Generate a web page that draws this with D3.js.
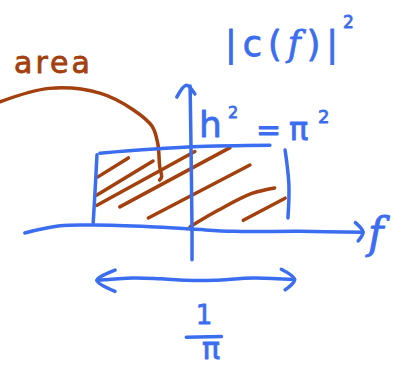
<!DOCTYPE html>
<html>
<head>
<meta charset="utf-8">
<script src="https://cdn.jsdelivr.net/npm/d3@7"></script>
<style>
  html, body { margin: 0; padding: 0; background: #fff; }
  #content { width: 406px; height: 367px; overflow: hidden; }
</style>
</head>
<body>
<div id="content"></div>
<script>
var width = document.getElementById('content').offsetWidth;
var height = document.getElementById('content').offsetHeight;

// sketch units: box spans f in [-1, 1], height in [0, 1]
var fAxis = [[-1.76,-0.05],[-1.39,0.04],[-1.04,0.05],[-0.44,0.03],[0,0],[0.43,-0.03],[1.14,-0.03],[1.8,-0.04]];
var fArrow = [[1.72,0.08],[1.8,-0.04],[1.75,-0.15]];
var hAxis = [[0,-0.39],[0,0],[-0.01,1],[-0.02,1.81]];
var hArrow = [[-0.16,1.67],[-0.06,1.82],[0.03,1.71]];
var boxTop = [[-0.97,0.96],[0,1.04],[0.82,1.06]];
var boxLeft = [[-1,0.94],[-1.02,0.49],[-1.04,0.08]];
var boxRight = [[0.98,1.0],[1.02,0.56],[1.01,0.14]];
var hatch = [
  [[-0.99,0.66],[-0.67,0.9]],
  [[-1,0.43],[-0.41,0.86]],
  [[-1,0.3],[0.03,0.98]],
  [[-0.76,0.28],[0.4,1.03]],
  [[-0.46,0.14],[0.61,0.81]],
  [[-0.02,0.03],[0.28,0.24],[0.63,0.45],[0.87,0.52]],
  [[0.54,0.11],[0.98,0.39]]
];
var pointer = [[-2.02,1.61],[-1.5,1.78],[-0.97,1.72],[-0.62,1.51],[-0.42,1.3],[-0.36,1.08],[-0.34,0.79],[-0.32,0.66],[-0.34,0.62]];
var span = [[-1,-0.65],[-0.62,-0.62],[-0.34,-0.63],[-0.06,-0.65],[0.23,-0.65],[0.65,-0.62],[1.08,-0.64]];
var spanLeft = [[-0.81,-0.52],[-1,-0.65],[-0.81,-0.79]];
var spanRight = [[0.94,-0.51],[1.08,-0.64],[0.98,-0.77]];
var fracBar = [[-0.06,-1.37],[0.31,-1.36]];

var labelArea = 'area';
var labelTitle = ['|c(', 'f', ')|'];
var labelH = 'h';
var labelPi = 'π';
var labelSq = '2';
var labelF = 'f';
var labelOne = '1';

var blue = '#3a6df0';
var brown = '#a3400e';

var svg = d3.select('div#content').append('svg')
  .attr('width', width)
  .attr('height', height);

var x = d3.scaleLinear().domain([-1, 1]).range([97, 287]);
var y = d3.scaleLinear().domain([0, 1]).range([229, 150]);

var line = d3.line()
  .x(function(d){ return x(d[0]); })
  .y(function(d){ return y(d[1]); })
  .curve(d3.curveCatmullRom.alpha(0.5));

function stroke(pts, color, w){
  svg.append('path')
    .attr('d', line(pts))
    .attr('stroke', color)
    .attr('stroke-width', w || 3.5)
    .attr('stroke-linecap', 'round')
    .attr('stroke-linejoin', 'round')
    .attr('fill', 'none');
}

// hatching first, blue box on top
hatch.forEach(function(h){ stroke(h, brown); });
stroke(pointer, brown);

[fAxis, fArrow, hAxis, hArrow, boxTop, boxLeft, boxRight, span, spanLeft, spanRight, fracBar]
  .forEach(function(p){ stroke(p, blue); });

function label(t, px, py, size, color, opts){
  opts = opts || {};
  return svg.append('text')
    .attr('x', px)
    .attr('y', py)
    .attr('font-family', opts.family || 'DejaVu Sans')
    .attr('font-style', opts.italic ? 'italic' : 'normal')
    .attr('font-size', size)
    .attr('letter-spacing', opts.spacing || 0)
    .attr('text-anchor', opts.anchor || 'start')
    .attr('fill', color)
    .attr('stroke', color)
    .attr('stroke-width', opts.sw || 0.8)
    .attr('stroke-linejoin', 'round')
    .text(t);
}

label(labelArea, 14, 73, 30, brown, {spacing: 3});

var title = label('', 225, 56, 35, blue, {spacing: 6});
title.selectAll('tspan')
  .data(labelTitle)
  .enter()
  .append('tspan')
  .attr('font-family', function(d, i){ return i === 1 ? 'DejaVu Serif' : null; })
  .attr('font-style', function(d, i){ return i === 1 ? 'italic' : null; })
  .text(function(d){ return d; });

label(labelSq, 343, 28, 17, blue);
label(labelH, 199, 137, 36, blue);
label(labelSq, 228, 118, 16, blue);
label('=', 256, 140, 30, blue);
label(labelPi, 289, 140, 32, blue);
label(labelSq, 318, 123, 18, blue);
label(labelF, 368, 248, 42, blue, {family: 'DejaVu Serif', italic: true});
label(labelOne, 204, 324, 26, blue, {anchor: 'middle'});
label(labelPi, 211, 359, 30, blue, {anchor: 'middle'});
</script>
</body>
</html>
